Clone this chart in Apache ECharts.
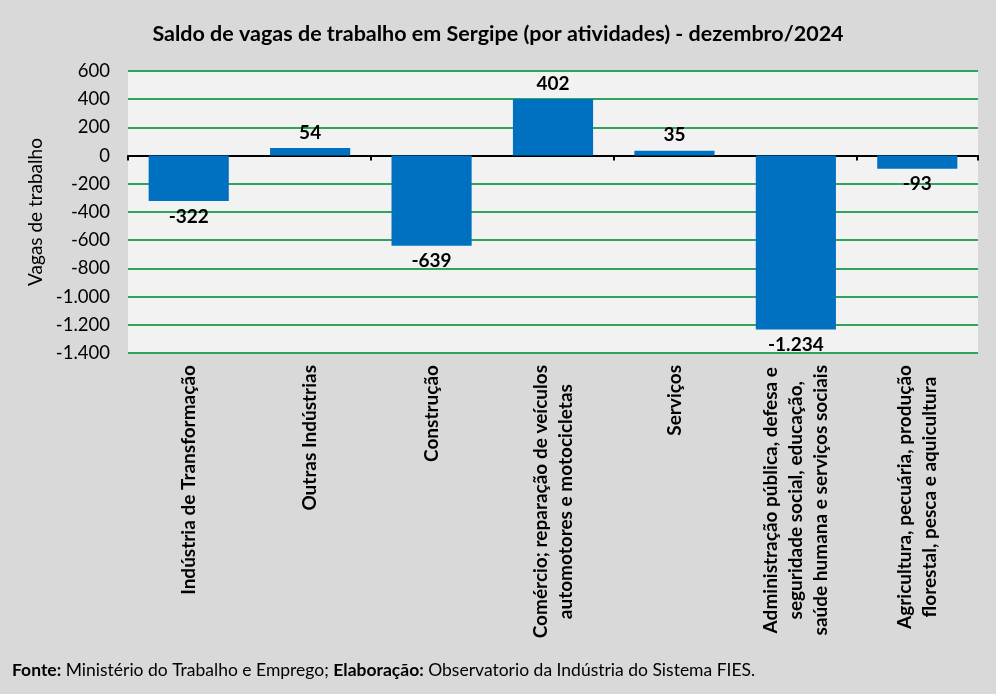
<!DOCTYPE html>
<html>
<head>
<meta charset="utf-8">
<script src="https://cdn.jsdelivr.net/npm/echarts@6/dist/echarts.min.js"></script>
<style>
  html, body { margin: 0; padding: 0; background: #d9d9d9; }
  #chart { width: 996px; height: 694px; }
</style>
</head>
<body>
<div id="chart"></div>
<script>
// dados do gráfico
const categorias = [
    'Indústria de Transformação',
    'Outras Indústrias',
    'Construção',
    'Comércio; reparação de veículos\nautomotores e motocicletas',
    'Serviços',
    'Administração pública, defesa e\nseguridade social, educação,\nsaúde humana e serviços sociais',
    'Agricultura, pecuária, produção\nflorestal, pesca e aquicultura'
];
const saldo = [-322, 54, -639, 402, 35, -1234, -93];
const yMin = -1400, yMax = 600, yStep = 200;

const FONT = 'Lato, "Open Sans", sans-serif';
const fmt = v => {
    const s = Math.abs(v).toString().replace(/\B(?=(\d{3})+(?!\d))/g, '.');
    return (v < 0 ? '-' : '') + s;
};

const chart = echarts.init(document.getElementById('chart'));

chart.setOption({
    backgroundColor: '#d9d9d9',
    textStyle: { fontFamily: FONT },
    title: {
        text: 'Saldo de vagas de trabalho em Sergipe (por atividades) - dezembro/2024',
        left: 'center', top: 18,
        textStyle: { fontSize: 21.5, fontWeight: 'bold', color: '#000', fontFamily: FONT }
    },
    grid: { left: 128, right: 18, top: 71, bottom: 341, show: true, backgroundColor: '#f2f2f2', borderWidth: 0 },
    xAxis: [
        {
            type: 'category', data: categorias, position: 'bottom',
            axisLine: { show: false, onZero: false }, axisTick: { show: false },
            axisLabel: {
                rotate: 90, margin: 12, interval: 0,
                formatter: v => v.split('\n').map(l => '{c|' + l + '}').join('\n'),
                rich: { c: { align: 'center', fontSize: 19, fontWeight: 'bold', color: '#000', fontFamily: FONT, lineHeight: 25 } }
            }
        },
        {
            // linha do zero com marcas
            type: 'category', data: categorias, position: 'top',
            axisLine: { show: true, onZero: true, lineStyle: { color: '#000', width: 2 } },
            axisTick: { show: true, inside: true, length: 5, lineStyle: { color: '#000', width: 2 } },
            axisLabel: { show: false }
        }
    ],
    yAxis: {
        type: 'value', min: yMin, max: yMax, interval: yStep,
        name: 'Vagas de trabalho', nameLocation: 'middle', nameGap: 80, nameRotate: 90,
        nameTextStyle: { fontSize: 19, color: '#000', fontFamily: FONT },
        axisLine: { show: false }, axisTick: { show: false },
        axisLabel: { fontSize: 18.5, color: '#000', margin: 18, formatter: fmt },
        splitLine: { lineStyle: { color: '#2ea55a', width: 2 } }
    },
    series: [{
        type: 'bar', xAxisIndex: 0,
        barWidth: '66%',
        data: saldo.map(v => ({
            value: v,
            label: { position: v >= 0 ? 'top' : 'bottom' }
        })),
        itemStyle: { color: '#0070c0' },
        label: {
            show: true, fontSize: 19, fontWeight: 'bold', color: '#000', distance: 6,
            fontFamily: FONT, formatter: p => fmt(p.value)
        }
    }],
    graphic: [{
        type: 'text', left: 12, top: 661,
        style: {
            text: '{b|Fonte:} Ministério do Trabalho e Emprego; {b|Elaboração:} Observatorio da Indústria do Sistema FIES.',
            fontSize: 17.5, fill: '#000', fontFamily: FONT,
            rich: { b: { fontWeight: 'bold', fontSize: 17.5, fontFamily: FONT } }
        }
    }]
});
</script>
</body>
</html>
